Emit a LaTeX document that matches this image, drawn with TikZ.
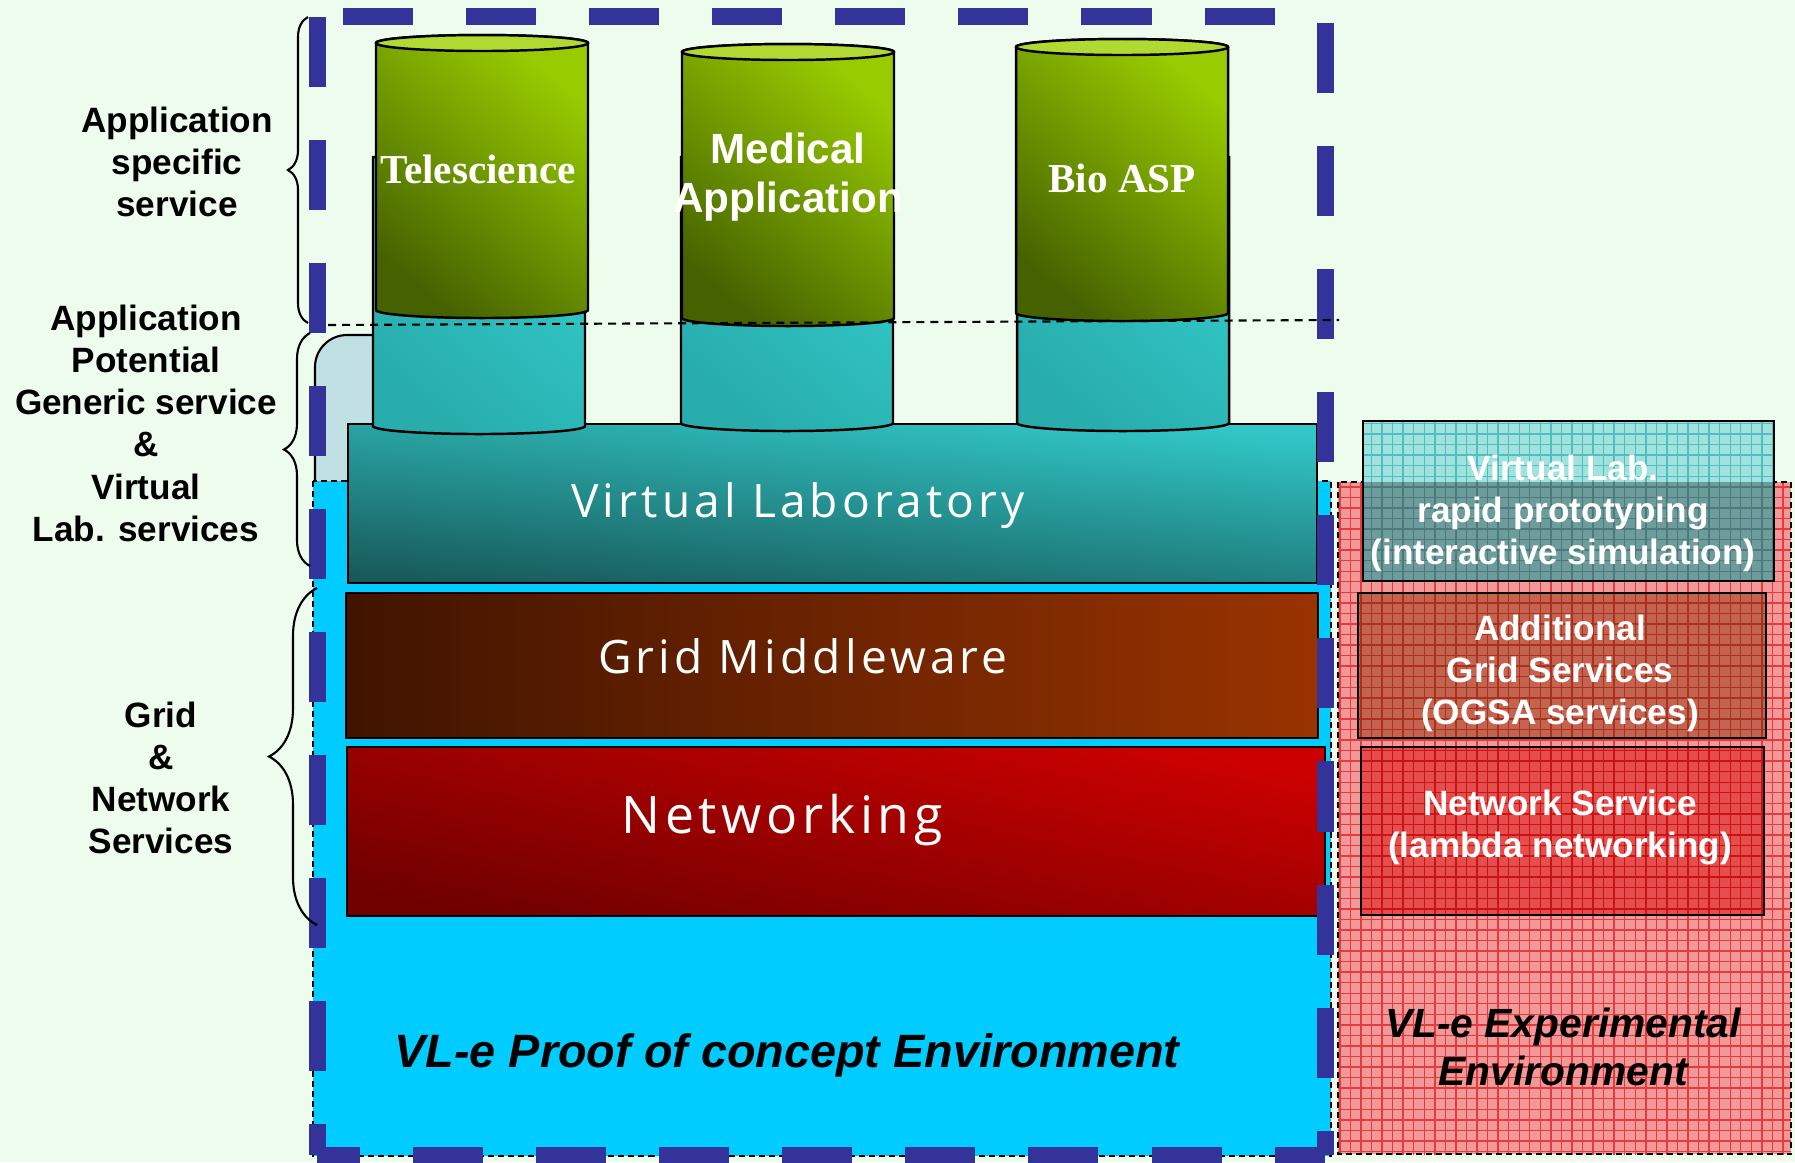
\documentclass[tikz,border=0pt]{standalone}
\usepackage{fontspec}
\setmainfont{Liberation Sans}
\newfontfamily\cylserif{Liberation Serif}
\newfontfamily\layerfont{Open Sans}[LetterSpace=9]
\usetikzlibrary{positioning,patterns,decorations.pathreplacing}

\definecolor{mint}{RGB}{238,252,238}
\definecolor{vlblue}{RGB}{51,51,153}
\definecolor{poccyan}{RGB}{0,204,255}
\definecolor{mist}{RGB}{192,224,228}
\definecolor{olivedark}{RGB}{70,98,0}
\definecolor{olivelight}{RGB}{153,204,0}
\definecolor{olivetop}{RGB}{176,218,50}
\definecolor{tealdark}{RGB}{40,172,172}
\definecolor{teallight}{RGB}{52,204,204}
\definecolor{vltop}{RGB}{50,200,200}
\definecolor{vlbottom}{RGB}{24,90,90}
\definecolor{mwleft}{RGB}{64,20,0}
\definecolor{mwright}{RGB}{153,51,0}
\definecolor{netlight}{RGB}{204,0,0}
\definecolor{netdark}{RGB}{112,0,0}
\definecolor{expfill}{RGB}{243,152,152}
\definecolor{expgrid}{RGB}{228,60,60}
\definecolor{protofill}{RGB}{160,226,222}
\definecolor{protogrid}{RGB}{80,190,190}
\definecolor{protodark}{RGB}{110,156,156}
\definecolor{protodarkgrid}{RGB}{74,122,122}
\definecolor{ogsafill}{RGB}{196,100,80}
\definecolor{ogsagrid}{RGB}{168,50,30}
\definecolor{lambdafill}{RGB}{230,78,78}
\definecolor{lambdagrid}{RGB}{200,20,20}

\begin{document}
\begin{tikzpicture}[x=0.01cm, y=0.01cm,
    sidelabel/.style={font=\bfseries\fontsize{10}{12}\selectfont, align=center, inner sep=0pt, anchor=north},
    boxlabel/.style={sidelabel, text=white},
    layertext/.style={text=white, inner sep=0pt, anchor=base},
    cyltext/.style={text=white, inner sep=0pt},
    layerbox/.style={draw=black, line width=0.7pt},
    greencyl/.style={draw=black, line width=0.7pt, top color=olivelight, bottom color=olivedark, shading angle=-40},
    tealcyl/.style={draw=black, line width=0.7pt, top color=teallight, bottom color=tealdark, shading angle=-40},
    cyltop/.style={draw=black, line width=0.7pt, fill=olivetop},
    envborder/.style={draw=black, line width=0.6pt, dash pattern=on 0.06cm off 0.04cm},
    gridfill/.style 2 args={preaction={fill=#1}, pattern=grid, pattern color=#2},
    envdash/.style={draw=vlblue, line width=0.17cm, dash pattern=on 0.7cm off 0.53cm},
    labelbrace/.style={decorate, line width=0.6pt}]

  % page
  \fill[mint] (0,0) rectangle (1795,-1162);
  \useasboundingbox (0,0) rectangle (1795,-1162);

  % environments
  \draw[fill=mist, line width=0.6pt, rounded corners=0.32cm] (315,-335) rectangle (420,-520);
  \fill[poccyan] (313,-481) rectangle (1331,-1156);
  \draw[envborder] (313,-481) rectangle (1331,-1156);
  \path[gridfill={expfill}{expgrid}] (1338,-482) rectangle (1791,-1154);
  \draw[envborder] (1338,-482) rectangle (1791,-1154);

  % layers
  \draw[layerbox, top color=vltop, bottom color=vlbottom, shading angle=-5] (348,-424) rectangle (1317,-583);
  \draw[layerbox, left color=mwleft, right color=mwright] (346,-593) rectangle (1318,-738);
  \draw[layerbox, top color=netlight, bottom color=netdark, shading angle=-12] (347,-747) rectangle (1325,-916);

  % Telescience
  \draw[tealcyl] (373,-157) -- (373,-426) arc[start angle=180, end angle=360, x radius=106, y radius=8] -- (585,-157) -- cycle;
  \draw[greencyl] (376,-43) -- (376,-310) arc[start angle=180, end angle=360, x radius=106, y radius=8]
    -- (588,-43) arc[start angle=0, end angle=180, x radius=106, y radius=8] -- cycle;
  \draw[cyltop] (482,-43) ellipse [x radius=106, y radius=8];
  % Medical Application
  \draw[tealcyl] (681,-157) -- (681,-423) arc[start angle=180, end angle=360, x radius=106, y radius=8] -- (893,-157) -- cycle;
  \draw[greencyl] (682,-52) -- (682,-318) arc[start angle=180, end angle=360, x radius=106, y radius=8]
    -- (894,-52) arc[start angle=0, end angle=180, x radius=106, y radius=8] -- cycle;
  \draw[cyltop] (788,-52) ellipse [x radius=106, y radius=8];
  % Bio ASP
  \draw[tealcyl] (1017,-157) -- (1017,-423) arc[start angle=180, end angle=360, x radius=106, y radius=8] -- (1229,-157) -- cycle;
  \draw[greencyl] (1016,-47) -- (1016,-313) arc[start angle=180, end angle=360, x radius=106, y radius=8]
    -- (1228,-47) arc[start angle=0, end angle=180, x radius=106, y radius=8] -- cycle;
  \draw[cyltop] (1122,-47) ellipse [x radius=106, y radius=8];

  \node[cyltext, anchor=base, font=\cylserif\bfseries\fontsize{11.7}{14}\selectfont] (tele) at (478,-183) {Telescience};
  \node[cyltext, anchor=north, align=center, font=\bfseries\fontsize{12}{14}\selectfont] (medical) at (788,-132) {Medical\\Application};
  \node[cyltext, anchor=base, font=\cylserif\bfseries\fontsize{11.7}{14}\selectfont] (bioasp) at (1122,-192) {Bio ASP};

  \node[layertext, font=\layerfont\fontsize{13.1}{16}\selectfont] (vlab) at (798,-517) {Virtual Laboratory};
  \node[layertext, font=\layerfont\fontsize{13.1}{16}\selectfont] (middleware) at (803,-673) {Grid Middleware};
  \node[layertext, font=\layerfont\fontsize{14.7}{18}\selectfont] (networking) at (782,-833) {Networking};

  % experimental services
  \path[gridfill={protofill}{protogrid}] (1363,-421) rectangle (1774,-581);
  \path[gridfill={protodark}{protodarkgrid}] (1363,-482) rectangle (1774,-581);
  \draw[layerbox] (1363,-421) rectangle (1774,-581);
  \path[gridfill={ogsafill}{ogsagrid}] (1358,-593) rectangle (1766,-738);
  \draw[layerbox] (1358,-593) rectangle (1766,-738);
  \path[gridfill={lambdafill}{lambdagrid}] (1361,-747) rectangle (1764,-915);
  \draw[layerbox] (1361,-747) rectangle (1764,-915);

  \node[boxlabel] (proto) at (1563,-454) {Virtual Lab.\\rapid prototyping\\(interactive simulation)};
  \node[boxlabel] (ogsa) at (1560,-614) {Additional\\Grid Services\\(OGSA services)};
  \node[boxlabel] (lambda) at (1560,-789) {Network Service\\(lambda networking)};

  \node[font=\bfseries\itshape\fontsize{13.3}{16}\selectfont, inner sep=0pt, anchor=base] (poc) at (787,-1067) {VL-e Proof of concept Environment};
  \node[font=\bfseries\itshape\fontsize{11.6}{13.7}\selectfont, align=center, inner sep=0pt, anchor=north] (exp) at (1563,-1007) {VL-e Experimental\\Environment};

  % application boundary, one side at a time
  \coordinate (split west) at (328,-325);
  \coordinate (split east) at (1339,-320);
  \draw[envdash] (317,-16.5) -- (317,-1155);
  \draw[envdash, dash phase=0.97cm] (317,-16.5) -- (1325,-16.5);
  \draw[envdash, dash phase=1.165cm] (1325,-16.5) -- (1325,-1155);
  \draw[envdash, dash phase=0.27cm] (317,-1155) -- (1325,-1155);
  \draw[line width=0.6pt, dash pattern=on 0.08cm off 0.06cm] (split west) -- (split east);

  % service groups
  \draw[labelbrace, decoration={brace, amplitude=2mm}] (308,-323) -- (308,-17);
  \draw[labelbrace, decoration={brace, amplitude=2.6mm}] (310,-566) -- (310,-333);
  \draw[labelbrace, decoration={brace, amplitude=4.8mm}] (317,-925) -- (317,-588);

  \node[sidelabel] (specific) at (177,-106) {Application\\specific\\service};
  \node[sidelabel] (generic) at (146,-304) {Application\\Potential\\Generic service\\\&\\Virtual\\Lab. services};
  \node[sidelabel] (gridnet) at (161,-701) {Grid\\\&\\Network\\Services};
\end{tikzpicture}
\end{document}
